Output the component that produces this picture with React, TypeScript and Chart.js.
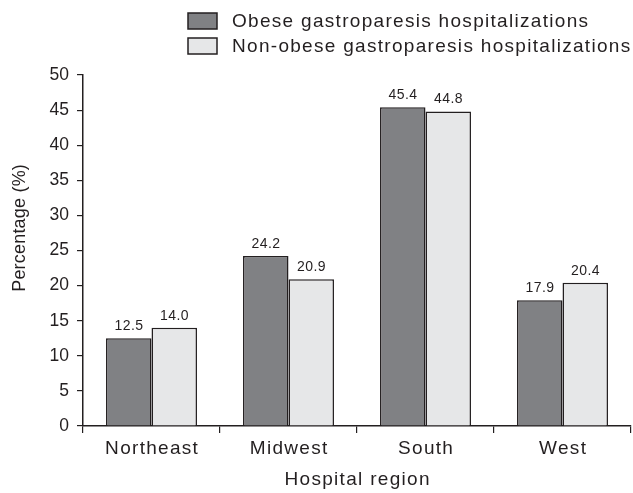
import React, { useEffect, useRef } from "react";
import { Chart, registerables } from "chart.js";

Chart.register(...registerables);

const categories = ["Northeast", "Midwest", "South", "West"];
const obeseValues = [12.5, 24.2, 45.4, 17.9];
const nonObeseValues = [14.0, 20.9, 44.8, 20.4];
const seriesNames = ["Obese gastroparesis hospitalizations", "Non-obese gastroparesis hospitalizations"];
const yTicks = [0, 5, 10, 15, 20, 25, 30, 35, 40, 45, 50];
const xTitle = "Hospital region";
const yTitle = "Percentage (%)";

const INK = "#231f20";
const DARK = "#808184";
const LIGHT = "#e6e7e8";
const FONT = "'Liberation Sans', Arial, Helvetica, sans-serif";
const WIDE = 1.3;
const BIG = 19;

function spacedText(ctx: any, text: string, x: number, y: number, spacing: number) {
  ctx.letterSpacing = `${spacing}px`;
  const align = ctx.textAlign;
  const shift = align === "center" ? spacing / 2 : 0;
  ctx.fillText(text, x + shift, y);
  ctx.letterSpacing = "0px";
}

const textPlugin = {
  id: "customText",
  afterDraw(chart: any) {
    const ctx = chart.ctx;
    const area = chart.chartArea;
    ctx.save();
    ctx.fillStyle = INK;
    ctx.textBaseline = "middle";

    // legend
    const boxes = [
      { label: seriesNames[0], color: DARK, y: 13 },
      { label: seriesNames[1], color: LIGHT, y: 38 },
    ];
    boxes.forEach((b) => {
      ctx.fillStyle = b.color;
      ctx.fillRect(188, b.y, 29, 16);
      ctx.strokeStyle = INK;
      ctx.lineWidth = 1.5;
      ctx.strokeRect(188, b.y, 29, 16);
      ctx.fillStyle = INK;
      ctx.font = `${BIG}px ${FONT}`;
      ctx.textAlign = "left";
      spacedText(ctx, b.label, 232, b.y + 8.5, WIDE);
    });

    // category labels
    const xScale = chart.scales.x;
    ctx.font = `${BIG}px ${FONT}`;
    ctx.textAlign = "center";
    categories.forEach((c, i) => {
      spacedText(ctx, c, xScale.getPixelForValue(i), 449, WIDE);
    });

    // x title
    spacedText(ctx, xTitle, (area.left + area.right) / 2, 480, WIDE);

    // y title
    ctx.save();
    ctx.translate(20, 228);
    ctx.rotate(-Math.PI / 2);
    ctx.font = `18px ${FONT}`;
    ctx.textAlign = "center";
    spacedText(ctx, yTitle, 0, 0, 0.2);
    ctx.restore();

    ctx.restore();
  },
};

const valueLabelPlugin = {
  id: "valueLabels",
  afterDatasetsDraw(chart: any) {
    const ctx = chart.ctx;
    ctx.save();
    ctx.fillStyle = INK;
    ctx.font = `14px ${FONT}`;
    ctx.textAlign = "center";
    ctx.textBaseline = "bottom";
    chart.data.datasets.forEach((ds: any, di: number) => {
      const meta = chart.getDatasetMeta(di);
      meta.data.forEach((bar: any, i: number) => {
        const v = ds.data[i] as number;
        spacedText(ctx, v.toFixed(1), bar.x, bar.y - 5, 0.4);
      });
    });
    ctx.restore();
  },
};

export default function App() {
  const ref = useRef<HTMLCanvasElement>(null);
  useEffect(() => {
    if (!ref.current) return;
    const chart = new Chart(ref.current, {
      type: "bar",
      data: {
        labels: categories,
        datasets: [
          {
            label: seriesNames[0],
            data: obeseValues,
            backgroundColor: DARK,
            borderColor: INK,
            borderWidth: 1.5,
            categoryPercentage: 0.664,
            barPercentage: 1.0,
          },
          {
            label: seriesNames[1],
            data: nonObeseValues,
            backgroundColor: LIGHT,
            borderColor: INK,
            borderWidth: 1.5,
            categoryPercentage: 0.664,
            barPercentage: 1.0,
          },
        ],
      },
      options: {
        responsive: false,
        animation: false,
        layout: { padding: { top: 75, right: 2, left: 0, bottom: 0 } },
        plugins: {
          legend: { display: false },
          tooltip: { enabled: false },
        },
        scales: {
          x: {
            afterFit(axis: any) {
              axis.height = 67;
            },
            grid: {
              display: true,
              drawOnChartArea: false,
              drawTicks: true,
              tickLength: 7,
              color: INK,
              lineWidth: 1.2,
            },
            border: { display: true, color: INK, width: 1.5 },
            ticks: { display: false },
          },
          y: {
            min: 0,
            max: 50,
            afterBuildTicks(axis: any) {
              axis.ticks = yTicks.map((v) => ({ value: v }));
            },
            afterFit(axis: any) {
              axis.width = 83;
            },
            grid: {
              display: true,
              drawOnChartArea: false,
              drawTicks: true,
              tickLength: 6,
              color: INK,
              lineWidth: 1.2,
            },
            border: { display: true, color: INK, width: 1.5 },
            ticks: {
              color: INK,
              font: { size: 17.5, family: FONT },
              padding: 8,
            },
          },
        },
      },
      plugins: [textPlugin, valueLabelPlugin],
    });
    return () => chart.destroy();
  }, []);
  return (
    <div style={{ position: "absolute", left: 0, top: 0, width: 633, height: 493, background: "#fff" }}>
      <canvas ref={ref} width={633} height={493} />
    </div>
  );
}
